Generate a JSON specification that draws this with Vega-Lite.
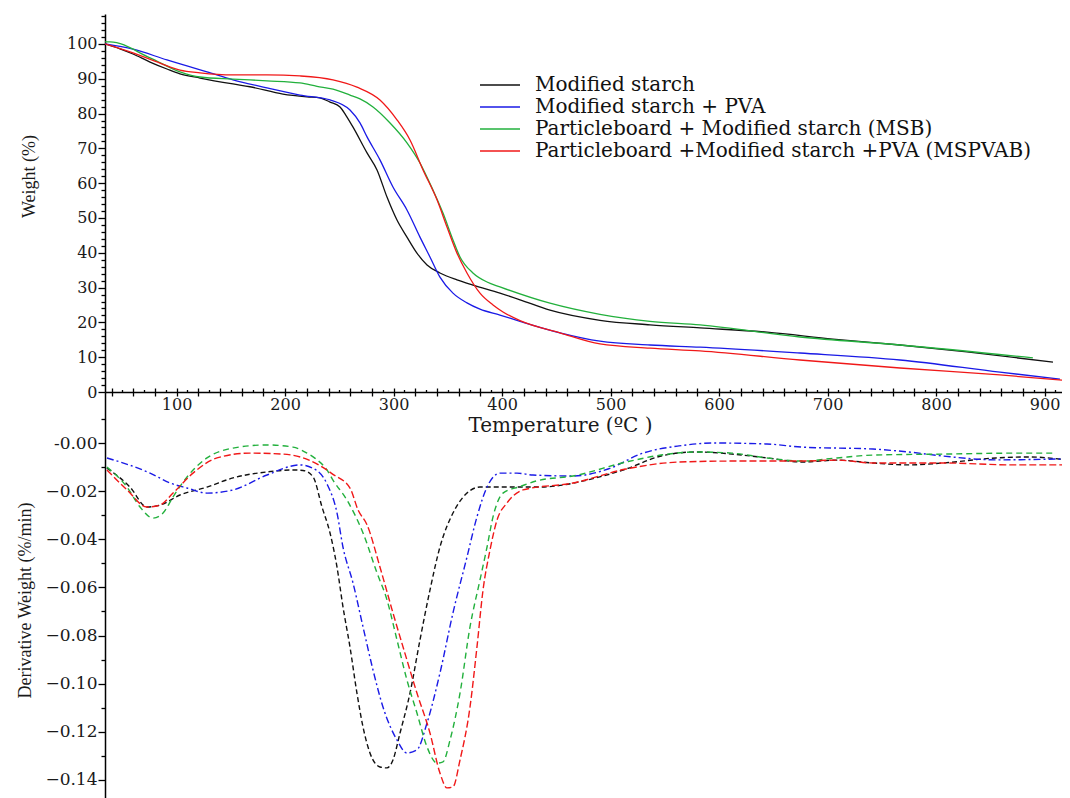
{
 "$schema": "https://vega.github.io/schema/vega-lite/v6.json",
 "autosize": {"type": "pad"},
 "padding": {"left": 16, "top": 14, "right": 0, "bottom": 0},
 "background": "white",
 "spacing": 0,
 "bounds": "flush",
 "config": {
  "view": {"stroke": null},
  "font": "Liberation Serif",
  "axis": {"domainColor": "#000", "tickColor": "#000", "labelColor": "#1a1a1a", "titleColor": "#1a1a1a", "grid": false, "labelFont": "DejaVu Serif", "labelFontSize": 16, "titleFont": "Liberation Serif", "titleFontWeight": "normal", "domainWidth": 1.5, "tickWidth": 1.3}
 },
 "datasets": {
  "tga": [
   {"sample":"Modified starch","temp":34,"weight":100},{"sample":"Modified starch","temp":47.8,"weight":98.6},{"sample":"Modified starch","temp":59.8,"weight":97.1},{"sample":"Modified starch","temp":75.5,"weight":94.8},{"sample":"Modified starch","temp":91.1,"weight":92.8},{"sample":"Modified starch","temp":103.1,"weight":91.4},{"sample":"Modified starch","temp":121.6,"weight":90.2},{"sample":"Modified starch","temp":152,"weight":88.5},{"sample":"Modified starch","temp":167.6,"weight":87.7},{"sample":"Modified starch","temp":198,"weight":85.6},{"sample":"Modified starch","temp":220.2,"weight":84.8},{"sample":"Modified starch","temp":232,"weight":84.5},{"sample":"Modified starch","temp":241.4,"weight":83.3},{"sample":"Modified starch","temp":250.6,"weight":81.9},{"sample":"Modified starch","temp":256,"weight":79.5},{"sample":"Modified starch","temp":262.6,"weight":76.1},{"sample":"Modified starch","temp":275.5,"weight":68.7},{"sample":"Modified starch","temp":284.7,"weight":63.8},{"sample":"Modified starch","temp":293.9,"weight":56},{"sample":"Modified starch","temp":303.1,"weight":49.4},{"sample":"Modified starch","temp":312.3,"weight":44.5},{"sample":"Modified starch","temp":321.5,"weight":39.9},{"sample":"Modified starch","temp":330.8,"weight":36.5},{"sample":"Modified starch","temp":342.7,"weight":34.2},{"sample":"Modified starch","temp":358.4,"weight":32.2},{"sample":"Modified starch","temp":373.1,"weight":30.7},{"sample":"Modified starch","temp":398,"weight":28.4},{"sample":"Modified starch","temp":416.5,"weight":26.5},{"sample":"Modified starch","temp":444.1,"weight":23.5},{"sample":"Modified starch","temp":490.2,"weight":20.6},{"sample":"Modified starch","temp":536.3,"weight":19.3},{"sample":"Modified starch","temp":582.4,"weight":18.4},{"sample":"Modified starch","temp":644.1,"weight":17.2},{"sample":"Modified starch","temp":704.9,"weight":15.2},{"sample":"Modified starch","temp":766.7,"weight":13.5},{"sample":"Modified starch","temp":828.4,"weight":11.5},{"sample":"Modified starch","temp":907.7,"weight":8.6},
   {"sample":"Modified starch + PVA","temp":34,"weight":100},{"sample":"Modified starch + PVA","temp":59.8,"weight":98.5},{"sample":"Modified starch + PVA","temp":91.1,"weight":95.4},{"sample":"Modified starch + PVA","temp":128,"weight":92},{"sample":"Modified starch + PVA","temp":152,"weight":89.7},{"sample":"Modified starch + PVA","temp":183.3,"weight":87.4},{"sample":"Modified starch + PVA","temp":213.7,"weight":85.3},{"sample":"Modified starch + PVA","temp":241.4,"weight":83.9},{"sample":"Modified starch + PVA","temp":259.8,"weight":81},{"sample":"Modified starch + PVA","temp":269,"weight":77.3},{"sample":"Modified starch + PVA","temp":275.5,"weight":73.3},{"sample":"Modified starch + PVA","temp":287.4,"weight":66.7},{"sample":"Modified starch + PVA","temp":299.4,"weight":58.9},{"sample":"Modified starch + PVA","temp":312.3,"weight":52.3},{"sample":"Modified starch + PVA","temp":324.3,"weight":44.5},{"sample":"Modified starch + PVA","temp":333.5,"weight":38.8},{"sample":"Modified starch + PVA","temp":342.7,"weight":33},{"sample":"Modified starch + PVA","temp":354.7,"weight":28.4},{"sample":"Modified starch + PVA","temp":367.6,"weight":25.6},{"sample":"Modified starch + PVA","temp":379.6,"weight":23.8},{"sample":"Modified starch + PVA","temp":398,"weight":22.1},{"sample":"Modified starch + PVA","temp":416.5,"weight":20.3},{"sample":"Modified starch + PVA","temp":453.3,"weight":17},{"sample":"Modified starch + PVA","temp":490.2,"weight":14.6},{"sample":"Modified starch + PVA","temp":536.3,"weight":13.5},{"sample":"Modified starch + PVA","temp":582.4,"weight":12.9},{"sample":"Modified starch + PVA","temp":674.5,"weight":11.2},{"sample":"Modified starch + PVA","temp":766.7,"weight":9.2},{"sample":"Modified starch + PVA","temp":858.8,"weight":5.7},{"sample":"Modified starch + PVA","temp":914.1,"weight":3.7},
   {"sample":"Particleboard + Modified starch (MSB)","temp":34,"weight":100.6},{"sample":"Particleboard + Modified starch (MSB)","temp":38.6,"weight":100.6},{"sample":"Particleboard + Modified starch (MSB)","temp":75.5,"weight":96},{"sample":"Particleboard + Modified starch (MSB)","temp":103.1,"weight":92},{"sample":"Particleboard + Modified starch (MSB)","temp":121.6,"weight":90.5},{"sample":"Particleboard + Modified starch (MSB)","temp":152,"weight":89.9},{"sample":"Particleboard + Modified starch (MSB)","temp":183.3,"weight":89.4},{"sample":"Particleboard + Modified starch (MSB)","temp":213.7,"weight":88.8},{"sample":"Particleboard + Modified starch (MSB)","temp":229.4,"weight":87.8},{"sample":"Particleboard + Modified starch (MSB)","temp":244.1,"weight":87},{"sample":"Particleboard + Modified starch (MSB)","temp":259.8,"weight":85.3},{"sample":"Particleboard + Modified starch (MSB)","temp":269,"weight":84.2},{"sample":"Particleboard + Modified starch (MSB)","temp":281,"weight":81.9},{"sample":"Particleboard + Modified starch (MSB)","temp":296.7,"weight":77.3},{"sample":"Particleboard + Modified starch (MSB)","temp":312.3,"weight":71.6},{"sample":"Particleboard + Modified starch (MSB)","temp":324.3,"weight":65.8},{"sample":"Particleboard + Modified starch (MSB)","temp":336.3,"weight":58},{"sample":"Particleboard + Modified starch (MSB)","temp":345.5,"weight":51.4},{"sample":"Particleboard + Modified starch (MSB)","temp":354.7,"weight":43.7},{"sample":"Particleboard + Modified starch (MSB)","temp":361.2,"weight":38.8},{"sample":"Particleboard + Modified starch (MSB)","temp":373.1,"weight":34.2},{"sample":"Particleboard + Modified starch (MSB)","temp":386.1,"weight":31.6},{"sample":"Particleboard + Modified starch (MSB)","temp":398,"weight":30.2},{"sample":"Particleboard + Modified starch (MSB)","temp":444.1,"weight":25.5},{"sample":"Particleboard + Modified starch (MSB)","temp":490.2,"weight":22.3},{"sample":"Particleboard + Modified starch (MSB)","temp":536.3,"weight":20.3},{"sample":"Particleboard + Modified starch (MSB)","temp":582.4,"weight":19.3},{"sample":"Particleboard + Modified starch (MSB)","temp":674.5,"weight":15.8},{"sample":"Particleboard + Modified starch (MSB)","temp":766.7,"weight":13.5},{"sample":"Particleboard + Modified starch (MSB)","temp":889.2,"weight":9.8},
   {"sample":"Particleboard +Modified starch +PVA (MSPVAB)","temp":34,"weight":100},{"sample":"Particleboard +Modified starch +PVA (MSPVAB)","temp":59.8,"weight":97.4},{"sample":"Particleboard +Modified starch +PVA (MSPVAB)","temp":84.7,"weight":94.5},{"sample":"Particleboard +Modified starch +PVA (MSPVAB)","temp":103.1,"weight":92.5},{"sample":"Particleboard +Modified starch +PVA (MSPVAB)","temp":121.6,"weight":91.7},{"sample":"Particleboard +Modified starch +PVA (MSPVAB)","temp":152,"weight":91.1},{"sample":"Particleboard +Modified starch +PVA (MSPVAB)","temp":183.3,"weight":91.1},{"sample":"Particleboard +Modified starch +PVA (MSPVAB)","temp":213.7,"weight":90.8},{"sample":"Particleboard +Modified starch +PVA (MSPVAB)","temp":244.1,"weight":89.7},{"sample":"Particleboard +Modified starch +PVA (MSPVAB)","temp":266.2,"weight":87.6},{"sample":"Particleboard +Modified starch +PVA (MSPVAB)","temp":287.4,"weight":83.9},{"sample":"Particleboard +Modified starch +PVA (MSPVAB)","temp":303.1,"weight":78.2},{"sample":"Particleboard +Modified starch +PVA (MSPVAB)","temp":315.1,"weight":72.4},{"sample":"Particleboard +Modified starch +PVA (MSPVAB)","temp":327.1,"weight":63.8},{"sample":"Particleboard +Modified starch +PVA (MSPVAB)","temp":340,"weight":55.2},{"sample":"Particleboard +Modified starch +PVA (MSPVAB)","temp":349.2,"weight":47.4},{"sample":"Particleboard +Modified starch +PVA (MSPVAB)","temp":358.4,"weight":39.9},{"sample":"Particleboard +Modified starch +PVA (MSPVAB)","temp":367.6,"weight":34.2},{"sample":"Particleboard +Modified starch +PVA (MSPVAB)","temp":379.6,"weight":28.4},{"sample":"Particleboard +Modified starch +PVA (MSPVAB)","temp":391.6,"weight":25},{"sample":"Particleboard +Modified starch +PVA (MSPVAB)","temp":400.8,"weight":23},{"sample":"Particleboard +Modified starch +PVA (MSPVAB)","temp":416.5,"weight":20.5},{"sample":"Particleboard +Modified starch +PVA (MSPVAB)","temp":453.3,"weight":17},{"sample":"Particleboard +Modified starch +PVA (MSPVAB)","temp":490.2,"weight":13.8},{"sample":"Particleboard +Modified starch +PVA (MSPVAB)","temp":536.3,"weight":12.6},{"sample":"Particleboard +Modified starch +PVA (MSPVAB)","temp":582.4,"weight":11.8},{"sample":"Particleboard +Modified starch +PVA (MSPVAB)","temp":674.5,"weight":9.2},{"sample":"Particleboard +Modified starch +PVA (MSPVAB)","temp":766.7,"weight":6.9},{"sample":"Particleboard +Modified starch +PVA (MSPVAB)","temp":858.8,"weight":4.9},{"sample":"Particleboard +Modified starch +PVA (MSPVAB)","temp":916,"weight":3.4}
  ],
  "dtg": [
   {"sample":"Modified starch","temp":35.8,"deriv":-0.0104},{"sample":"Modified starch","temp":57,"deriv":-0.0183},{"sample":"Modified starch","temp":72.7,"deriv":-0.0266},{"sample":"Modified starch","temp":84.7,"deriv":-0.0258},{"sample":"Modified starch","temp":103.1,"deriv":-0.0216},{"sample":"Modified starch","temp":128,"deriv":-0.0183},{"sample":"Modified starch","temp":152,"deriv":-0.0145},{"sample":"Modified starch","temp":183.3,"deriv":-0.012},{"sample":"Modified starch","temp":207.3,"deriv":-0.0112},{"sample":"Modified starch","temp":216.5,"deriv":-0.0114},{"sample":"Modified starch","temp":225.7,"deriv":-0.014},{"sample":"Modified starch","temp":234,"deriv":-0.0266},{"sample":"Modified starch","temp":241.4,"deriv":-0.0374},{"sample":"Modified starch","temp":247.8,"deriv":-0.0515},{"sample":"Modified starch","temp":253.3,"deriv":-0.068},{"sample":"Modified starch","temp":259.8,"deriv":-0.0848},{"sample":"Modified starch","temp":266.2,"deriv":-0.1039},{"sample":"Modified starch","temp":271.8,"deriv":-0.118},{"sample":"Modified starch","temp":278.2,"deriv":-0.1288},{"sample":"Modified starch","temp":287.4,"deriv":-0.1346},{"sample":"Modified starch","temp":293.9,"deriv":-0.135},{"sample":"Modified starch","temp":299.4,"deriv":-0.1317},{"sample":"Modified starch","temp":305.9,"deriv":-0.1205},{"sample":"Modified starch","temp":315.1,"deriv":-0.1039},{"sample":"Modified starch","temp":324.3,"deriv":-0.0818},{"sample":"Modified starch","temp":333.5,"deriv":-0.0611},{"sample":"Modified starch","temp":342.7,"deriv":-0.0432},{"sample":"Modified starch","temp":354.7,"deriv":-0.0291},{"sample":"Modified starch","temp":367.6,"deriv":-0.0208},{"sample":"Modified starch","temp":379.6,"deriv":-0.0183},{"sample":"Modified starch","temp":404.5,"deriv":-0.0183},{"sample":"Modified starch","temp":434.9,"deriv":-0.0183},{"sample":"Modified starch","temp":448.7,"deriv":-0.0179},{"sample":"Modified starch","temp":481.9,"deriv":-0.015},{"sample":"Modified starch","temp":514.2,"deriv":-0.0108},{"sample":"Modified starch","temp":546.4,"deriv":-0.0054},{"sample":"Modified starch","temp":578.7,"deriv":-0.0037},{"sample":"Modified starch","temp":611.8,"deriv":-0.0046},{"sample":"Modified starch","temp":644.1,"deriv":-0.0062},{"sample":"Modified starch","temp":676.4,"deriv":-0.0079},{"sample":"Modified starch","temp":708.6,"deriv":-0.0071},{"sample":"Modified starch","temp":741.8,"deriv":-0.0083},{"sample":"Modified starch","temp":774,"deriv":-0.0091},{"sample":"Modified starch","temp":806.3,"deriv":-0.0083},{"sample":"Modified starch","temp":855.1,"deriv":-0.0062},{"sample":"Modified starch","temp":887.4,"deriv":-0.0058},{"sample":"Modified starch","temp":916,"deriv":-0.0068},
   {"sample":"Modified starch + PVA","temp":35.8,"deriv":-0.0062},{"sample":"Modified starch + PVA","temp":75.5,"deriv":-0.0125},{"sample":"Modified starch + PVA","temp":93.9,"deriv":-0.0166},{"sample":"Modified starch + PVA","temp":109.6,"deriv":-0.0187},{"sample":"Modified starch + PVA","temp":128,"deriv":-0.0208},{"sample":"Modified starch + PVA","temp":152,"deriv":-0.0195},{"sample":"Modified starch + PVA","temp":183.3,"deriv":-0.0133},{"sample":"Modified starch + PVA","temp":213.7,"deriv":-0.0091},{"sample":"Modified starch + PVA","temp":225.7,"deriv":-0.0105},{"sample":"Modified starch + PVA","temp":238.6,"deriv":-0.017},{"sample":"Modified starch + PVA","temp":247.8,"deriv":-0.029},{"sample":"Modified starch + PVA","temp":253.3,"deriv":-0.0432},{"sample":"Modified starch + PVA","temp":262.6,"deriv":-0.0582},{"sample":"Modified starch + PVA","temp":271.8,"deriv":-0.0764},{"sample":"Modified starch + PVA","temp":281,"deriv":-0.0943},{"sample":"Modified starch + PVA","temp":290.2,"deriv":-0.1097},{"sample":"Modified starch + PVA","temp":303.1,"deriv":-0.1234},{"sample":"Modified starch + PVA","temp":312.3,"deriv":-0.1288},{"sample":"Modified starch + PVA","temp":321.5,"deriv":-0.1275},{"sample":"Modified starch + PVA","temp":330.8,"deriv":-0.1163},{"sample":"Modified starch + PVA","temp":342.7,"deriv":-0.0956},{"sample":"Modified starch + PVA","temp":354.7,"deriv":-0.0706},{"sample":"Modified starch + PVA","temp":367.6,"deriv":-0.0474},{"sample":"Modified starch + PVA","temp":376.8,"deriv":-0.0307},{"sample":"Modified starch + PVA","temp":386.1,"deriv":-0.0183},{"sample":"Modified starch + PVA","temp":398,"deriv":-0.0125},{"sample":"Modified starch + PVA","temp":413.7,"deriv":-0.0125},{"sample":"Modified starch + PVA","temp":428.4,"deriv":-0.0133},{"sample":"Modified starch + PVA","temp":465.3,"deriv":-0.0137},{"sample":"Modified starch + PVA","temp":497.6,"deriv":-0.0108},{"sample":"Modified starch + PVA","temp":529.8,"deriv":-0.0042},{"sample":"Modified starch + PVA","temp":563,"deriv":-0.0012},{"sample":"Modified starch + PVA","temp":595.3,"deriv":0},{"sample":"Modified starch + PVA","temp":644.1,"deriv":-0.0004},{"sample":"Modified starch + PVA","temp":676.4,"deriv":-0.0017},{"sample":"Modified starch + PVA","temp":741.8,"deriv":-0.0025},{"sample":"Modified starch + PVA","temp":774,"deriv":-0.0037},{"sample":"Modified starch + PVA","temp":806.3,"deriv":-0.0054},{"sample":"Modified starch + PVA","temp":855.1,"deriv":-0.007},{"sample":"Modified starch + PVA","temp":916,"deriv":-0.0066},
   {"sample":"Particleboard + Modified starch (MSB)","temp":35.8,"deriv":-0.01},{"sample":"Particleboard + Modified starch (MSB)","temp":54.3,"deriv":-0.0183},{"sample":"Particleboard + Modified starch (MSB)","temp":66.3,"deriv":-0.0266},{"sample":"Particleboard + Modified starch (MSB)","temp":78.2,"deriv":-0.0312},{"sample":"Particleboard + Modified starch (MSB)","temp":87.5,"deriv":-0.0291},{"sample":"Particleboard + Modified starch (MSB)","temp":96.7,"deriv":-0.0224},{"sample":"Particleboard + Modified starch (MSB)","temp":109.6,"deriv":-0.0141},{"sample":"Particleboard + Modified starch (MSB)","temp":128,"deriv":-0.0062},{"sample":"Particleboard + Modified starch (MSB)","temp":152,"deriv":-0.0021},{"sample":"Particleboard + Modified starch (MSB)","temp":183.3,"deriv":-0.0008},{"sample":"Particleboard + Modified starch (MSB)","temp":207.3,"deriv":-0.0017},{"sample":"Particleboard + Modified starch (MSB)","temp":220.2,"deriv":-0.0042},{"sample":"Particleboard + Modified starch (MSB)","temp":228,"deriv":-0.0065},{"sample":"Particleboard + Modified starch (MSB)","temp":238.6,"deriv":-0.0112},{"sample":"Particleboard + Modified starch (MSB)","temp":244.1,"deriv":-0.0154},{"sample":"Particleboard + Modified starch (MSB)","temp":257,"deriv":-0.0237},{"sample":"Particleboard + Modified starch (MSB)","temp":271.8,"deriv":-0.0374},{"sample":"Particleboard + Modified starch (MSB)","temp":284.7,"deriv":-0.054},{"sample":"Particleboard + Modified starch (MSB)","temp":293.9,"deriv":-0.0652},{"sample":"Particleboard + Modified starch (MSB)","temp":303.1,"deriv":-0.0818},{"sample":"Particleboard + Modified starch (MSB)","temp":312.3,"deriv":-0.0985},{"sample":"Particleboard + Modified starch (MSB)","temp":321.5,"deriv":-0.1122},{"sample":"Particleboard + Modified starch (MSB)","temp":330.8,"deriv":-0.1263},{"sample":"Particleboard + Modified starch (MSB)","temp":340,"deriv":-0.133},{"sample":"Particleboard + Modified starch (MSB)","temp":345.5,"deriv":-0.1325},{"sample":"Particleboard + Modified starch (MSB)","temp":352,"deriv":-0.1234},{"sample":"Particleboard + Modified starch (MSB)","temp":361.2,"deriv":-0.1039},{"sample":"Particleboard + Modified starch (MSB)","temp":370.4,"deriv":-0.0764},{"sample":"Particleboard + Modified starch (MSB)","temp":379.6,"deriv":-0.0569},{"sample":"Particleboard + Modified starch (MSB)","temp":386.1,"deriv":-0.0432},{"sample":"Particleboard + Modified starch (MSB)","temp":391.6,"deriv":-0.0307},{"sample":"Particleboard + Modified starch (MSB)","temp":400.8,"deriv":-0.0208},{"sample":"Particleboard + Modified starch (MSB)","temp":416.5,"deriv":-0.0181},{"sample":"Particleboard + Modified starch (MSB)","temp":432.1,"deriv":-0.0157},{"sample":"Particleboard + Modified starch (MSB)","temp":465.3,"deriv":-0.0137},{"sample":"Particleboard + Modified starch (MSB)","temp":514.2,"deriv":-0.0079},{"sample":"Particleboard + Modified starch (MSB)","temp":546.4,"deriv":-0.005},{"sample":"Particleboard + Modified starch (MSB)","temp":578.7,"deriv":-0.0037},{"sample":"Particleboard + Modified starch (MSB)","temp":611.8,"deriv":-0.0042},{"sample":"Particleboard + Modified starch (MSB)","temp":644.1,"deriv":-0.0062},{"sample":"Particleboard + Modified starch (MSB)","temp":676.4,"deriv":-0.0075},{"sample":"Particleboard + Modified starch (MSB)","temp":708.6,"deriv":-0.0062},{"sample":"Particleboard + Modified starch (MSB)","temp":741.8,"deriv":-0.005},{"sample":"Particleboard + Modified starch (MSB)","temp":806.3,"deriv":-0.0046},{"sample":"Particleboard + Modified starch (MSB)","temp":871.7,"deriv":-0.0042},{"sample":"Particleboard + Modified starch (MSB)","temp":910.4,"deriv":-0.0042},
   {"sample":"Particleboard +Modified starch +PVA (MSPVAB)","temp":35.8,"deriv":-0.0112},{"sample":"Particleboard +Modified starch +PVA (MSPVAB)","temp":54.3,"deriv":-0.0195},{"sample":"Particleboard +Modified starch +PVA (MSPVAB)","temp":72.7,"deriv":-0.0266},{"sample":"Particleboard +Modified starch +PVA (MSPVAB)","temp":84.7,"deriv":-0.0258},{"sample":"Particleboard +Modified starch +PVA (MSPVAB)","temp":96.7,"deriv":-0.0208},{"sample":"Particleboard +Modified starch +PVA (MSPVAB)","temp":115.1,"deriv":-0.0125},{"sample":"Particleboard +Modified starch +PVA (MSPVAB)","temp":137.2,"deriv":-0.0062},{"sample":"Particleboard +Modified starch +PVA (MSPVAB)","temp":167.6,"deriv":-0.0042},{"sample":"Particleboard +Modified starch +PVA (MSPVAB)","temp":198,"deriv":-0.0046},{"sample":"Particleboard +Modified starch +PVA (MSPVAB)","temp":222,"deriv":-0.0071},{"sample":"Particleboard +Modified starch +PVA (MSPVAB)","temp":244.1,"deriv":-0.013},{"sample":"Particleboard +Modified starch +PVA (MSPVAB)","temp":259.8,"deriv":-0.0187},{"sample":"Particleboard +Modified starch +PVA (MSPVAB)","temp":267.2,"deriv":-0.0278},{"sample":"Particleboard +Modified starch +PVA (MSPVAB)","temp":275.5,"deriv":-0.034},{"sample":"Particleboard +Modified starch +PVA (MSPVAB)","temp":287.4,"deriv":-0.0515},{"sample":"Particleboard +Modified starch +PVA (MSPVAB)","temp":299.4,"deriv":-0.0706},{"sample":"Particleboard +Modified starch +PVA (MSPVAB)","temp":312.3,"deriv":-0.0902},{"sample":"Particleboard +Modified starch +PVA (MSPVAB)","temp":321.5,"deriv":-0.1039},{"sample":"Particleboard +Modified starch +PVA (MSPVAB)","temp":333.5,"deriv":-0.1205},{"sample":"Particleboard +Modified starch +PVA (MSPVAB)","temp":342.7,"deriv":-0.1371},{"sample":"Particleboard +Modified starch +PVA (MSPVAB)","temp":349.2,"deriv":-0.1433},{"sample":"Particleboard +Modified starch +PVA (MSPVAB)","temp":354.7,"deriv":-0.1429},{"sample":"Particleboard +Modified starch +PVA (MSPVAB)","temp":361.2,"deriv":-0.1317},{"sample":"Particleboard +Modified starch +PVA (MSPVAB)","temp":370.4,"deriv":-0.1097},{"sample":"Particleboard +Modified starch +PVA (MSPVAB)","temp":376.8,"deriv":-0.0848},{"sample":"Particleboard +Modified starch +PVA (MSPVAB)","temp":382.4,"deriv":-0.0611},{"sample":"Particleboard +Modified starch +PVA (MSPVAB)","temp":388.8,"deriv":-0.0445},{"sample":"Particleboard +Modified starch +PVA (MSPVAB)","temp":395.3,"deriv":-0.032},{"sample":"Particleboard +Modified starch +PVA (MSPVAB)","temp":404.5,"deriv":-0.0249},{"sample":"Particleboard +Modified starch +PVA (MSPVAB)","temp":419.2,"deriv":-0.0195},{"sample":"Particleboard +Modified starch +PVA (MSPVAB)","temp":465.3,"deriv":-0.0166},{"sample":"Particleboard +Modified starch +PVA (MSPVAB)","temp":514.2,"deriv":-0.0108},{"sample":"Particleboard +Modified starch +PVA (MSPVAB)","temp":563,"deriv":-0.0079},{"sample":"Particleboard +Modified starch +PVA (MSPVAB)","temp":611.8,"deriv":-0.0075},{"sample":"Particleboard +Modified starch +PVA (MSPVAB)","temp":676.4,"deriv":-0.0075},{"sample":"Particleboard +Modified starch +PVA (MSPVAB)","temp":708.6,"deriv":-0.0071},{"sample":"Particleboard +Modified starch +PVA (MSPVAB)","temp":741.8,"deriv":-0.0083},{"sample":"Particleboard +Modified starch +PVA (MSPVAB)","temp":806.3,"deriv":-0.0083},{"sample":"Particleboard +Modified starch +PVA (MSPVAB)","temp":871.7,"deriv":-0.0091},{"sample":"Particleboard +Modified starch +PVA (MSPVAB)","temp":916,"deriv":-0.0091}
  ]
 },
 "resolve": {"scale": {"color": "independent", "x": "independent", "y": "independent"}},
 "vconcat": [
  {
   "width": 957,
   "height": 378,
   "data": {"name": "tga"},
   "layer": [
    {
     "mark": {"type": "line", "strokeWidth": 1.3, "interpolate": "monotone", "clip": true},
     "encoding": {
      "x": {"field": "temp", "type": "quantitative", "scale": {"domain": [34, 916], "nice": false, "zero": false},
            "axis": {"orient": "bottom", "values": [100,200,300,400,500,600,700,800,900], "tickSize": 4, "labelPadding": 0, "title": "Temperature (ºC )", "titleFont": "DejaVu Serif", "titleFontSize": 20, "titleX": 455, "titleY": 33, "titleBaseline": "middle", "titleAlign": "center"}},
      "y": {"field": "weight", "type": "quantitative", "scale": {"domain": [0, 108.6], "nice": false, "zero": false},
            "axis": {"orient": "left", "values": [0,10,20,30,40,50,60,70,80,90,100], "tickSize": 7, "labelPadding": 1, "title": "Weight (%)", "titleFontSize": 18, "titleX": -76, "titleY": 162, "titleAngle": 270, "titleAlign": "center", "titleBaseline": "middle"}},
      "color": {"field": "sample", "type": "nominal",
                "scale": {"domain": ["Modified starch", "Modified starch + PVA", "Particleboard + Modified starch (MSB)", "Particleboard +Modified starch +PVA (MSPVAB)"], "range": ["#111111", "#1a1ae6", "#22b03c", "#f01818"]},
                "legend": {"orient": "none", "legendX": 384, "legendY": 60, "title": null, "symbolType": "M-2,0H2", "symbolSize": 400, "symbolStrokeWidth": 1.5, "labelFont": "DejaVu Serif", "labelFontSize": 20, "labelColor": "#111", "rowPadding": 1, "labelOffset": 24, "labelLimit": 0}}
     }
    },
    {
     "mark": {"type": "line", "opacity": 0},
     "encoding": {
      "x": {"field": "temp", "type": "quantitative", "scale": {"domain": [34, 916], "nice": false, "zero": false},
            "axis": {"orient": "bottom", "values": [40,60,80,120,140,160,180,220,240,260,280,320,340,360,380,420,440,460,480,520,540,560,580,620,640,660,680,720,740,760,780,820,840,860,880], "tickSize": 4, "labels": false, "domain": false, "title": null}},
      "y": {"field": "weight", "type": "quantitative", "scale": {"domain": [0, 108.6], "nice": false, "zero": false},
            "axis": {"orient": "left", "values": [2,4,6,8,12,14,16,18,22,24,26,28,32,34,36,38,42,44,46,48,52,54,56,58,62,64,66,68,72,74,76,78,82,84,86,88,92,94,96,98,102,104,106,108], "tickSize": 4, "labels": false, "domain": false, "title": null}},
      "detail": {"field": "sample"}
     }
    },
    {
     "mark": {"type": "line", "opacity": 0},
     "encoding": {
      "x": {"field": "temp", "type": "quantitative", "scale": {"domain": [34, 916], "nice": false, "zero": false},
            "axis": {"orient": "bottom", "values": [40,60,80,100,120,140,160,180,200,220,240,260,280,300,320,340,360,380,400,420,440,460,480,500,520,540,560,580,600,620,640,660,680,700,720,740,760,780,800,820,840,860,880,900], "tickSize": -4, "labels": false, "domain": false, "title": null}},
      "y": {"field": "weight", "type": "quantitative", "scale": {"domain": [0, 108.6], "nice": false, "zero": false}, "axis": null},
      "detail": {"field": "sample"}
     }
    },
    {
     "mark": {"type": "line", "opacity": 0},
     "encoding": {
      "x": {"field": "temp", "type": "quantitative", "scale": {"domain": [34, 916], "nice": false, "zero": false},
            "axis": {"orient": "bottom", "values": [50,70,90,110,130,150,170,190,210,230,250,270,290,310,330,350,370,390,410,430,450,470,490,510,530,550,570,590,610,630,650,670,690,710,730,750,770,790,810,830,850,870,890,910], "tickSize": -2.5, "labels": false, "domain": false, "title": null}},
      "y": {"field": "weight", "type": "quantitative", "scale": {"domain": [0, 108.6], "nice": false, "zero": false}, "axis": null},
      "detail": {"field": "sample"}
     }
    }
   ],
   "resolve": {"axis": {"x": "independent", "y": "independent"}}
  },
  {
   "width": 957,
   "height": 406,
   "data": {"name": "dtg"},
   "layer": [
    {
     "mark": {"type": "line", "strokeWidth": 1.4, "interpolate": "monotone", "clip": true},
     "encoding": {
      "x": {"field": "temp", "type": "quantitative", "scale": {"domain": [34, 916], "nice": false, "zero": false}, "axis": null},
      "y": {"field": "deriv", "type": "quantitative", "scale": {"domain": [-0.1475, 0.0212], "nice": false, "zero": false},
            "axis": {"orient": "left", "values": [0,-0.02,-0.04,-0.06,-0.08,-0.1,-0.12,-0.14], "labelExpr": "datum.value == 0 ? '-0.00' : format(datum.value, '.2f')", "labelFontSize": 17, "tickSize": 7, "labelPadding": 1, "title": "Derivative Weight (%/min)", "titleFontSize": 18, "titleX": -80, "titleY": 208, "titleAngle": 270, "titleAlign": "center", "titleBaseline": "middle"}},
      "color": {"field": "sample", "type": "nominal",
                "scale": {"domain": ["Modified starch", "Modified starch + PVA", "Particleboard + Modified starch (MSB)", "Particleboard +Modified starch +PVA (MSPVAB)"], "range": ["#111111", "#1a1ae6", "#22b03c", "#f01818"]},
                "legend": null},
      "strokeDash": {"field": "sample", "type": "nominal",
                "scale": {"domain": ["Modified starch", "Modified starch + PVA", "Particleboard + Modified starch (MSB)", "Particleboard +Modified starch +PVA (MSPVAB)"], "range": [[5,3], [7,3,2,3], [6,4], [7,3]]},
                "legend": null}
     }
    },
    {
     "mark": {"type": "line", "opacity": 0},
     "encoding": {
      "x": {"field": "temp", "type": "quantitative", "scale": {"domain": [34, 916], "nice": false, "zero": false}, "axis": null},
      "y": {"field": "deriv", "type": "quantitative", "scale": {"domain": [-0.1475, 0.0212], "nice": false, "zero": false},
            "axis": {"orient": "left", "values": [0.01,-0.01,-0.03,-0.05,-0.07,-0.09,-0.11,-0.13], "tickSize": 4, "labels": false, "domain": false, "title": null}},
      "detail": {"field": "sample"}
     }
    }
   ],
   "resolve": {"axis": {"y": "independent"}}
  }
 ]
}
